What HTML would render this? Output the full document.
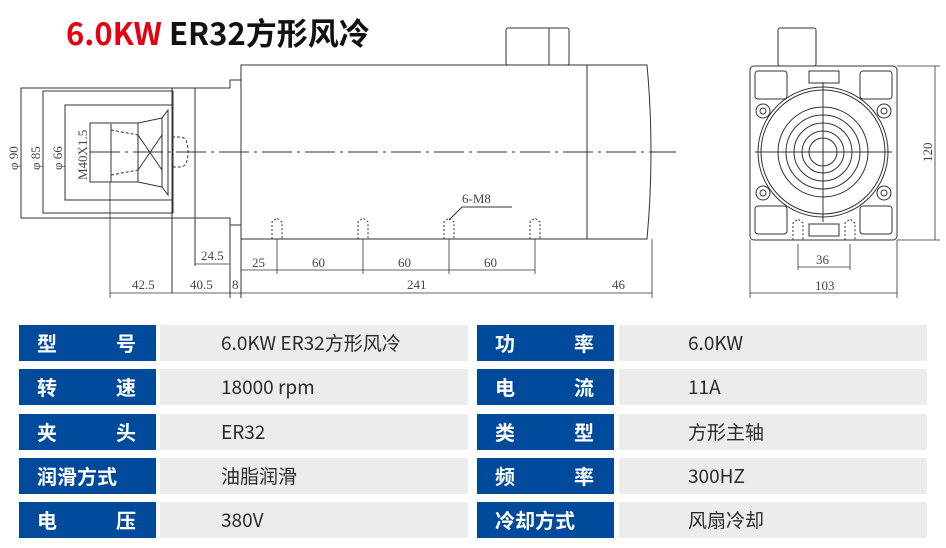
<!DOCTYPE html>
<html><head><meta charset="utf-8"><style>
body{margin:0;width:946px;height:548px;background:#fff;overflow:hidden;position:relative;font-family:"Liberation Sans","Noto Sans CJK SC",sans-serif}
.t{position:absolute;left:66px;top:9px;font-size:31px;font-weight:bold;color:#111;font-family:"Noto Sans CJK SC",sans-serif;letter-spacing:0px}
.t span{color:#e60012}
.l,.v{position:absolute;height:36px;line-height:36px;font-family:"Noto Sans CJK SC",sans-serif}
.l{background:#004a9c;color:#fff;font-weight:bold;font-size:20px;width:137px;box-sizing:border-box;padding:0 20px 0 18px;display:flex;justify-content:space-between}
.v{background:#ececec;color:#2a2a2a;font-size:19px;width:308px;box-sizing:border-box}
svg{position:absolute;left:0;top:0}
svg text{font-family:"Liberation Serif",serif;font-size:13px;fill:#444}
</style></head><body>
<div class="t"><span>6.0KW</span> ER32方形风冷</div>
<svg width="946" height="320" viewBox="0 0 946 320" fill="none" stroke="#333" stroke-width="1">
<rect x="21" y="88" width="174" height="130"/>
<rect x="43" y="91" width="130" height="122"/>
<rect x="65" y="105" width="107" height="95"/>
<polyline points="172,88 172,293"/>
<rect x="90" y="123" width="48" height="59"/>
<polyline points="111,124 111,182"/>
<polyline points="138,123 162,118 162,187 138,182"/>
<line x1="138" y1="135" x2="162" y2="170"/><line x1="138" y1="170" x2="162" y2="135"/>
<polyline points="162,118 168,110 168,195 162,187" />
<path d="M172,137 h8 q8,0 8,15 q0,15 -8,15 h-8" stroke-dasharray="3,2"/>
<line x1="111" y1="130" x2="138" y2="135" stroke-dasharray="3,2"/>
<line x1="111" y1="175" x2="138" y2="170" stroke-dasharray="3,2"/>
<polyline points="195,88 230,88 230,80 241,80 241,65"/>
<polyline points="195,218 230,218 230,225 241,225 241,239"/>
<polyline points="195,218 195,266"/>
<polyline points="230,225 230,298"/>
<polyline points="241,239 241,298"/>
<rect x="241" y="65" width="346" height="174"/>
<path d="M587,65 H647 Q655,152 647,239 H587"/>
<rect x="506" y="28" width="63" height="37" rx="2"/>
<line x1="549" y1="28" x2="549" y2="65"/>
<line x1="90" y1="152" x2="676" y2="152" stroke-dasharray="30,5,3,5"/>
<g stroke-dasharray="2,2">
<path d="M272,239 v-17 l5,-4 l5,4 v17"/><path d="M358,239 v-17 l5,-4 l5,4 v17"/><path d="M444,239 v-17 l5,-4 l5,4 v17"/><path d="M530,239 v-17 l5,-4 l5,4 v17"/>
</g>
<polyline points="449,220 462,207 512,207" />
<text x="462" y="203" stroke="none">6-M8</text>
<g stroke-width="0.8">
<line x1="21" y1="88" x2="21" y2="218"/><line x1="43" y1="91" x2="43" y2="213"/><line x1="65" y1="105" x2="65" y2="200"/><line x1="90" y1="123" x2="90" y2="182"/>
<line x1="110" y1="182" x2="110" y2="298"/>
<line x1="110" y1="293" x2="652" y2="293"/>
<line x1="652" y1="239" x2="652" y2="298"/>
<line x1="195" y1="264" x2="230" y2="264"/>
<line x1="241" y1="270" x2="535" y2="270"/>
<line x1="277" y1="239" x2="277" y2="274"/><line x1="363" y1="239" x2="363" y2="274"/><line x1="449" y1="239" x2="449" y2="274"/><line x1="535" y1="239" x2="535" y2="274"/>
</g>
<g stroke="none">
<text x="132" y="289">42.5</text><text x="190" y="289">40.5</text><text x="232" y="289">8</text><text x="407" y="289">241</text><text x="612" y="289">46</text>
<text x="201" y="260">24.5</text><text x="252" y="267">25</text><text x="312" y="267">60</text><text x="398" y="267">60</text><text x="484" y="267">60</text>
<text transform="translate(18,170) rotate(-90)">φ 90</text>
<text transform="translate(40,170) rotate(-90)">φ 85</text>
<text transform="translate(62,170) rotate(-90)">φ 66</text>
<text transform="translate(87,180) rotate(-90)">M40X1.5</text>
</g>
<rect x="750" y="66" width="147" height="174" rx="4"/>
<rect x="778" y="28" width="38" height="38" rx="2"/>
<rect x="809" y="71" width="30" height="12"/><rect x="809" y="224" width="30" height="12"/>
<rect x="755" y="71" width="32" height="28" rx="3"/><rect x="860" y="71" width="32" height="28" rx="3"/>
<rect x="755" y="206" width="32" height="28" rx="3"/><rect x="860" y="206" width="32" height="28" rx="3"/>
<circle cx="823" cy="152" r="65" fill="#fff"/>
<circle cx="823" cy="152" r="62"/>
<circle cx="823" cy="152" r="45"/><circle cx="823" cy="152" r="37"/><circle cx="823" cy="152" r="29"/><circle cx="823" cy="152" r="21"/><circle cx="823" cy="152" r="14"/>
<line x1="755" y1="152" x2="892" y2="152"/><line x1="823" y1="82" x2="823" y2="222"/>
<g><circle cx="763" cy="111" r="7"/><circle cx="763" cy="111" r="3"/><circle cx="884" cy="111" r="7"/><circle cx="884" cy="111" r="3"/><circle cx="763" cy="193" r="7"/><circle cx="763" cy="193" r="3"/><circle cx="884" cy="193" r="7"/><circle cx="884" cy="193" r="3"/></g>
<g stroke-dasharray="2,2"><path d="M793,240 v-17 l5,-4 l5,4 v17"/><path d="M845,240 v-17 l5,-4 l5,4 v17"/></g>
<g stroke-width="0.8">
<line x1="897" y1="66" x2="940" y2="66"/><line x1="897" y1="240" x2="940" y2="240"/><line x1="935" y1="66" x2="935" y2="240"/>
<line x1="750" y1="240" x2="750" y2="298"/><line x1="897" y1="240" x2="897" y2="298"/><line x1="750" y1="293" x2="897" y2="293"/>
<line x1="798" y1="244" x2="798" y2="270"/><line x1="850" y1="244" x2="850" y2="270"/><line x1="798" y1="267" x2="850" y2="267"/>
</g>
<g stroke="none"><text x="815" y="290">103</text><text x="816" y="264">36</text><text transform="translate(932,162) rotate(-90)">120</text></g>
</svg>
<div class="l" style="left:19px;top:325px"><span>型</span><span>号</span></div><div class="v" style="left:160px;top:325px;padding-left:61px">6.0KW ER32方形风冷</div>
<div class="l" style="left:19px;top:369px"><span>转</span><span>速</span></div><div class="v" style="left:160px;top:369px;padding-left:61px">18000 rpm</div>
<div class="l" style="left:19px;top:414px"><span>夹</span><span>头</span></div><div class="v" style="left:160px;top:414px;padding-left:61px">ER32</div>
<div class="l" style="left:19px;top:458px"><span>润滑方式</span></div><div class="v" style="left:160px;top:458px;padding-left:61px">油脂润滑</div>
<div class="l" style="left:19px;top:502px"><span>电</span><span>压</span></div><div class="v" style="left:160px;top:502px;padding-left:61px">380V</div>
<div class="l" style="left:477px;top:325px"><span>功</span><span>率</span></div><div class="v" style="left:619px;top:325px;padding-left:69px">6.0KW</div>
<div class="l" style="left:477px;top:369px"><span>电</span><span>流</span></div><div class="v" style="left:619px;top:369px;padding-left:69px">11A</div>
<div class="l" style="left:477px;top:414px"><span>类</span><span>型</span></div><div class="v" style="left:619px;top:414px;padding-left:69px">方形主轴</div>
<div class="l" style="left:477px;top:458px"><span>频</span><span>率</span></div><div class="v" style="left:619px;top:458px;padding-left:69px">300HZ</div>
<div class="l" style="left:477px;top:502px"><span>冷却方式</span></div><div class="v" style="left:619px;top:502px;padding-left:69px">风扇冷却</div>
</body></html>
